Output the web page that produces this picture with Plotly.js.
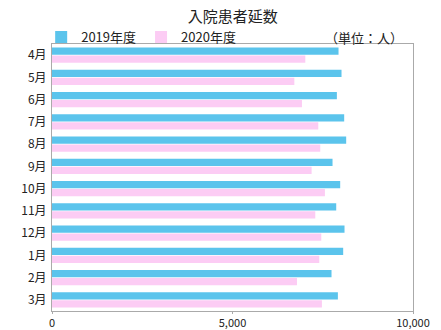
<!DOCTYPE html>
<html><head><meta charset="utf-8">
<script src="https://cdn.plot.ly/plotly-3.0.1.min.js"></script>
<style>html,body{margin:0;padding:0;background:#fff}#c{width:441px;height:330px}</style>
</head><body><div id="c"></div>
<script>
var months = ["4月","5月","6月","7月","8月","9月","10月","11月","12月","1月","2月","3月"];
var fy2019 = [7937,8020,7891,8094,8149,7771,7983,7873,8103,8066,7743,7919];
var fy2020 = [7017,6713,6924,7376,7431,7191,7560,7293,7459,7403,6786,7477];
var xTicks = [0,5000,10000];
var xTickText = ["0","5,000","10,000"];

var font = "'Noto Sans CJK JP', 'Noto Sans', sans-serif";
var data = [
  {type:"bar", orientation:"h", name:"2019年度", y:months, x:fy2019, marker:{color:"#5BC4EC"}},
  {type:"bar", orientation:"h", name:"2020年度", y:months, x:fy2020, marker:{color:"#FCCCF4"}}
];
var layout = {
  width:441, height:330,
  margin:{l:52, r:28, t:44, b:19},
  paper_bgcolor:"#fff", plot_bgcolor:"#fff",
  barmode:"group", bargap:0.28, bargroupgap:0.1,
  font:{family:font, color:"#222", size:12},
  title:{text:"入院患者延数", x:0.528, xanchor:"center", y:0.948, yanchor:"middle", font:{size:15, family:font, color:"#222"}},
  showlegend:true,
  legend:{orientation:"h", x:-0.03, xanchor:"left", y:1.026, yanchor:"middle", font:{size:13, family:font, color:"#222"}, itemwidth:30, tracegroupgap:0, bgcolor:"rgba(0,0,0,0)"},
  xaxis:{range:[0,10000], tickvals:xTicks, ticktext:xTickText, showgrid:false, zeroline:false,
    showline:true, linecolor:"#aaa", linewidth:1, mirror:true, ticks:"outside", ticklen:2, tickcolor:"#aaa",
    tickfont:{size:11, family:font, color:"#222"}, fixedrange:true},
  yaxis:{autorange:"reversed", showgrid:false, zeroline:false, showline:true, linecolor:"#aaa", linewidth:1, mirror:true,
    ticks:"", ticklabelstandoff:2, tickfont:{size:12, family:font, color:"#222"}},
  annotations:[{text:"（単位：人）", xref:"paper", yref:"paper", x:0.978, xanchor:"right", y:1.026, yanchor:"middle", showarrow:false, font:{size:13, family:font, color:"#222"}}]
};
Plotly.newPlot("c", data, layout, {displayModeBar:false, staticPlot:true});
</script></body></html>
